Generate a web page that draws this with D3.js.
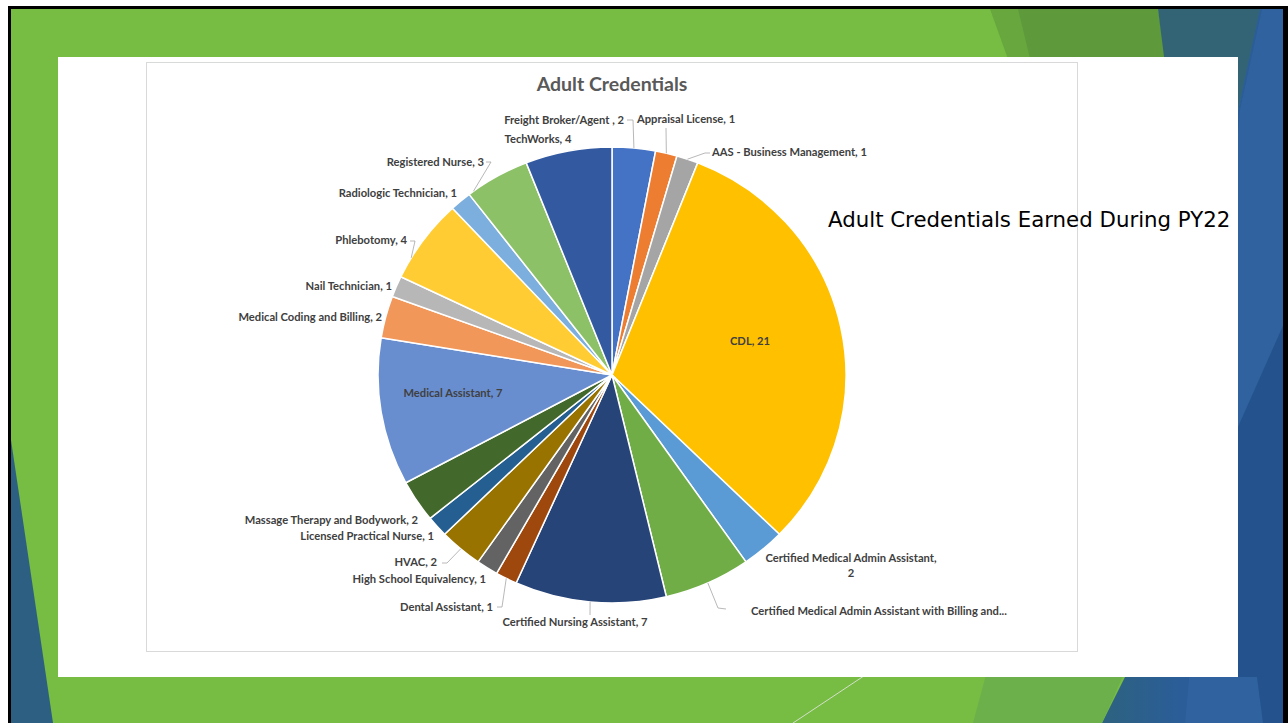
<!DOCTYPE html>
<html>
<head>
<meta charset="utf-8">
<script src="https://cdn.jsdelivr.net/npm/d3@7/dist/d3.min.js"></script>
<style>
  html, body { margin: 0; padding: 0; background: #ffffff; }
  svg { display: block; }
</style>
</head>
<body>
<svg id="slide" width="1288" height="723"></svg>
<script>
// Credentials earned, clockwise from 12 o'clock
const categories = [
  "Freight Broker/Agent ", "Appraisal License", "AAS - Business Management", "CDL",
  "Certified Medical Admin Assistant", "Certified Medical Admin Assistant with Billing and...",
  "Certified Nursing Assistant", "Dental Assistant", "High School Equivalency", "HVAC",
  "Licensed Practical Nurse", "Massage Therapy and  Bodywork", "Medical Assistant",
  "Medical Coding and Billing", "Nail Technician", "Phlebotomy", "Radiologic Technician",
  "Registered Nurse", "TechWorks"
];
const counts = [2, 1, 1, 21, 2, 4, 7, 1, 1, 2, 1, 2, 7, 2, 1, 4, 1, 3, 4];
const sliceColors = [
  "#4472C4", "#ED7D31", "#A5A5A5", "#FFC000", "#5B9BD5", "#70AD47", "#264478",
  "#9E480E", "#636363", "#997300", "#255E91", "#43682B", "#698ED0", "#F1975A",
  "#B7B7B7", "#FFCD33", "#7CAFDD", "#8CC168", "#335AA1"
];
const chartTitle = "Adult Credentials";
const slideCaption = "Adult Credentials Earned During PY22";

// Data label placement, offsets from the pie centre.
// split: two-line label; stub: leader waypoints; t: where the leader meets the slice rim
const labelLayout = [
  { x: 12,   y: -255, anchor: "end",    stub: [[15, -255], [21, -255]] },
  { x: 25,   y: -256, anchor: "start",  stub: [[54, -247]] },
  { x: 100,  y: -223, anchor: "start",  stub: [[98, -222], [93, -222]] },
  { x: 138,  y: -34,  anchor: "middle" },
  { x: 239,  y: 183,  anchor: "middle", split: true },
  { x: 139,  y: 236,  anchor: "start",  stub: [[114, 234], [106, 233]] },
  { x: -37,  y: 247,  anchor: "middle", stub: [[-22, 240]] },
  { x: -119, y: 232,  anchor: "end",    stub: [[-115, 232], [-110, 232]] },
  { x: -126, y: 204,  anchor: "end" },
  { x: -175, y: 187,  anchor: "end",    stub: [[-170, 188], [-165, 188]] },
  { x: -178, y: 161,  anchor: "end" },
  { x: -194, y: 145,  anchor: "end" },
  { x: -159, y: 18,   anchor: "middle" },
  { x: -230, y: -58,  anchor: "end" },
  { x: -220, y: -89,  anchor: "end" },
  { x: -205, y: -135, anchor: "end",    stub: [[-202, -134], [-197, -134]], t: 0.25 },
  { x: -155, y: -182, anchor: "end" },
  { x: -128, y: -213, anchor: "end",    stub: [[-126, -213], [-121, -213]], t: 0.08 },
  { x: -74,  y: -236, anchor: "middle" }
];

const W = 1288, H = 723;
const svg = d3.select("#slide");

// ---- slide backdrop ----
svg.append("rect").attr("x", 8).attr("y", 6).attr("width", W - 8).attr("height", H - 6).attr("fill", "#000");
const defs = svg.append("defs");
defs.append("clipPath").attr("id", "slideClip")
  .append("rect").attr("x", 11).attr("y", 9).attr("width", 1272).attr("height", H - 9);
const slide = svg.append("g").attr("clip-path", "url(#slideClip)");

const grad = defs.append("linearGradient").attr("id", "tealBlue")
  .attr("x1", "1110").attr("x2", "1180").attr("y1", "0").attr("y2", "0")
  .attr("gradientUnits", "userSpaceOnUse");
grad.append("stop").attr("offset", "0").attr("stop-color", "#2D6282");
grad.append("stop").attr("offset", "1").attr("stop-color", "#2B5D98");

const line = d3.line();
slide.append("rect").attr("x", 0).attr("y", 0).attr("width", W).attr("height", H).attr("fill", "#77BC43");

const facets = [
  { pts: [[990, 9], [1020, 9], [1060, 120], [1030, 120]], fill: "#67A73E" },
  { pts: [[1018, 9], [1158, 9], [1175, 120], [1045, 120]], fill: "#5E993C" },
  { pts: [[1158, 9], [1262, 9], [1236, 120], [1172, 120]], fill: "#336476" },
  { pts: [[1260, 9], [1290, 9], [1290, 723], [1102, 723], [1125, 677], [1238, 110]], fill: "url(#tealBlue)" },
  { pts: [[1262, 9], [1290, 9], [1290, 723], [1185, 723], [1240, 110]], fill: "#2F629E" },
  { pts: [[1290, 310], [1238, 427], [1238, 677], [1257, 677], [1263, 723], [1290, 723]], fill: "#24528D" },
  { pts: [[973, 723], [990, 660], [1130, 660], [1102, 723]], fill: "#6CB04B" },
  { pts: [[11, 440], [53, 723], [11, 723]], fill: "#2C5F82" }
];
slide.selectAll("path.facet").data(facets).join("path")
  .attr("class", "facet")
  .attr("d", d => line(d.pts) + "Z")
  .attr("fill", d => d.fill);

slide.append("line").attr("x1", 900).attr("y1", 652).attr("x2", 793).attr("y2", 723)
  .attr("stroke", "#d3dfcb").attr("stroke-width", 1);

// white content panel and chart frame
slide.append("rect").attr("x", 58).attr("y", 57).attr("width", 1180).attr("height", 620).attr("fill", "#ffffff");
slide.append("rect").attr("x", 146.5).attr("y", 62.5).attr("width", 931).attr("height", 589)
  .attr("fill", "#ffffff").attr("stroke", "#d9d9d9").attr("stroke-width", 1);

// ---- chart ----
const cx = 612, cy = 375;
const rx = 234, ry = 228;          // the pie is drawn slightly wider than tall
const radius = 230;
const chart = slide.append("g").attr("transform", `translate(${cx},${cy})`);

chart.append("text")
  .attr("x", 0).attr("y", -284)
  .attr("text-anchor", "middle")
  .attr("font-family", "Lato, 'Open Sans', sans-serif")
  .attr("font-weight", 700)
  .attr("font-size", 19.5)
  .attr("fill", "#595959")
  .text(chartTitle);

const rows = categories.map((name, i) => ({ name, value: counts[i], color: sliceColors[i], layout: labelLayout[i] }));
const pie = d3.pie().value(d => d.value).sort(null);
const arcs = pie(rows);
const arc = d3.arc().innerRadius(0).outerRadius(radius);

chart.append("g")
  .attr("transform", `scale(${rx / radius},${ry / radius})`)
  .selectAll("path.slice").data(arcs).join("path")
  .attr("class", "slice")
  .attr("d", arc)
  .attr("fill", d => d.data.color)
  .attr("stroke", "#ffffff")
  .attr("stroke-width", 1.5)
  .attr("stroke-linejoin", "round")
  .attr("vector-effect", "non-scaling-stroke");

// leader lines: from label stub to the slice rim
function rimPoint(d) {
  const t = d.data.layout.t == null ? 0.5 : d.data.layout.t;
  const a = d.startAngle + (d.endAngle - d.startAngle) * t;
  return [rx * Math.sin(a), -ry * Math.cos(a)];
}
chart.selectAll("path.leader").data(arcs.filter(d => d.data.layout.stub)).join("path")
  .attr("class", "leader")
  .attr("d", d => line(d.data.layout.stub.concat([rimPoint(d)])))
  .attr("fill", "none")
  .attr("stroke", "#a6a6a6")
  .attr("stroke-width", 0.8);

const labels = chart.selectAll("text.dlabel").data(arcs).join("text")
  .attr("class", "dlabel")
  .attr("x", d => d.data.layout.x)
  .attr("y", d => d.data.layout.y)
  .attr("text-anchor", d => d.data.layout.anchor)
  .attr("font-family", "Lato, 'Open Sans', sans-serif")
  .attr("font-weight", 700)
  .attr("font-size", 11.2)
  .attr("fill", "#404040");

labels.each(function (d) {
  const el = d3.select(this);
  const L = d.data.layout;
  if (L.split) {
    el.append("tspan").attr("x", L.x).attr("dy", "0.35em").text(`${d.data.name},`);
    el.append("tspan").attr("x", L.x).attr("dy", "15").text(d.data.value);
  } else if (/\.\.\.$/.test(d.data.name)) {
    // truncated category name, value not shown
    el.append("tspan").attr("dy", "0.35em").text(d.data.name);
  } else {
    el.append("tspan").attr("dy", "0.35em").text(`${d.data.name}, ${d.data.value}`);
  }
});

// slide caption
slide.append("text")
  .attr("x", 828).attr("y", 227)
  .attr("font-family", "'DejaVu Sans', sans-serif")
  .attr("font-size", 21.3)
  .attr("fill", "#000000")
  .text(slideCaption);
</script>
</body>
</html>
